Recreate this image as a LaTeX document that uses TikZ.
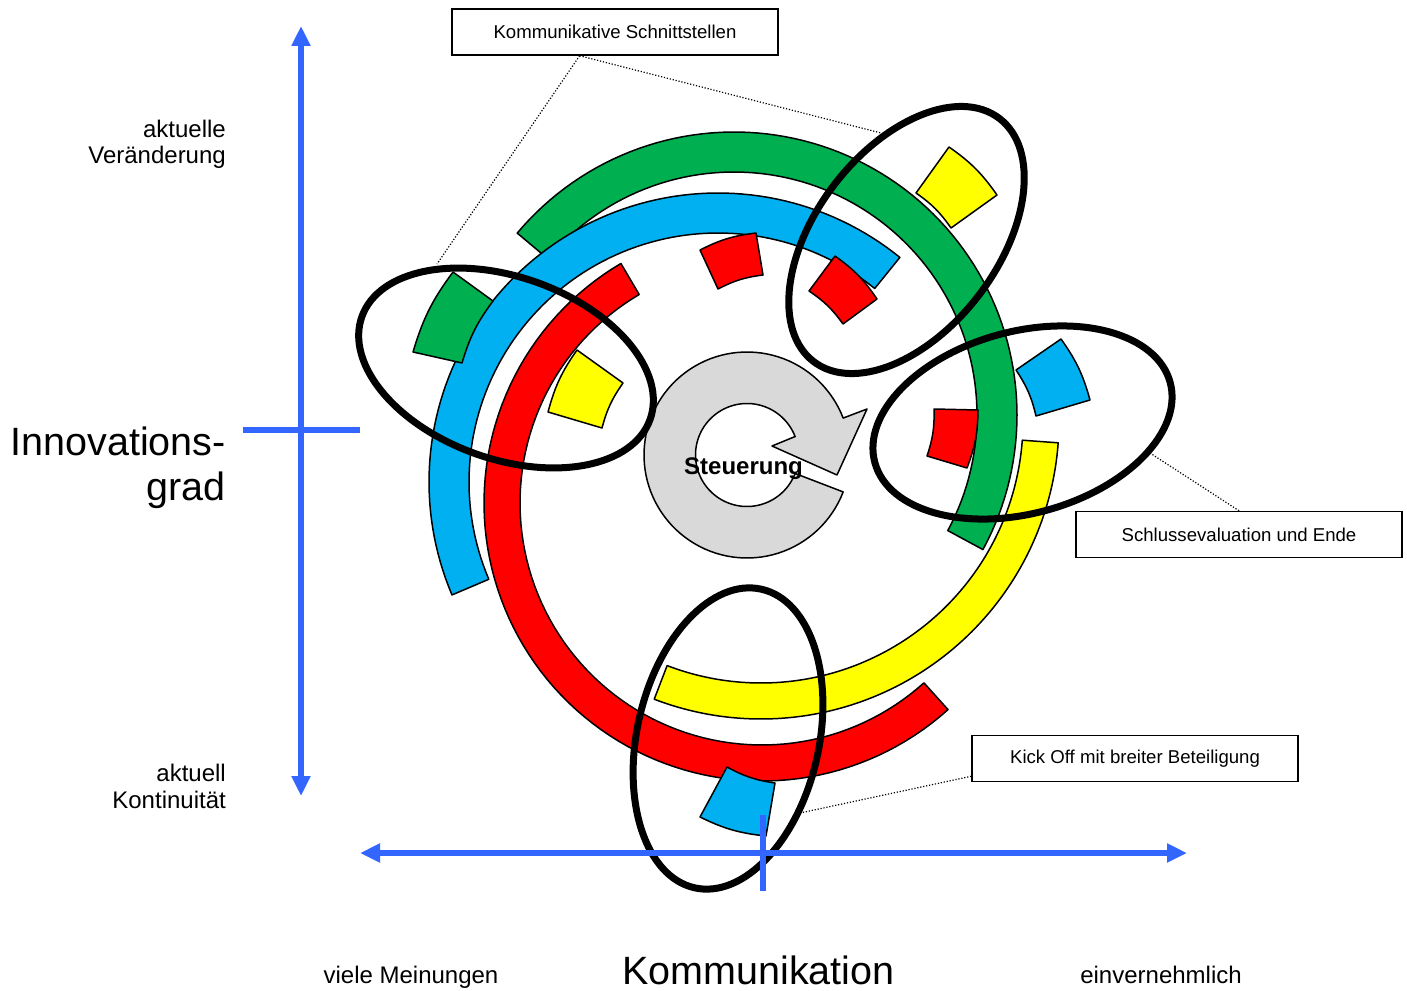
\documentclass[tikz,border=0pt]{standalone}
\usepackage{fontspec}
\setmainfont{Liberation Sans}
\usetikzlibrary{shapes.geometric,arrows.meta,calc}
\definecolor{cgreen}{HTML}{00B050}
\definecolor{cblue}{HTML}{00B0F0}
\definecolor{cred}{HTML}{FF0000}
\definecolor{cyellow}{HTML}{FFFF00}
\definecolor{cgray}{HTML}{D9D9D9}
\definecolor{axisblue}{HTML}{3366FF}
% annular band: colour, cx, cy, r inner, r outer, start angle, end angle (screen angles, y down)
\newcommand\ringband[7]{\filldraw[ringline, fill=#1] plot[domain=#6:#7,samples=90] ({#2+#5*cos(\x)},{#3+#5*sin(\x)}) -- plot[domain=#7:#6,samples=90] ({#2+#4*cos(\x)},{#3+#4*sin(\x)}) -- cycle;}
% curved tile: colour, outer1, inner1, inner2, outer2 (inner1 -> inner2 clockwise)
\newcommand\tile[5]{\filldraw[ringline, fill=#1] #2 -- #3 to[bend left=10] #4 -- #5 to[bend right=10] #2 -- cycle;}
\begin{document}
\begin{tikzpicture}[x=1pt,y=-1pt,
  ringline/.style={draw=black, line width=1.5pt, line join=round},
  ell/.style={draw=black, ellipse, line width=7pt, minimum width=306pt, minimum height=182pt, inner sep=0pt},
  lbox/.style={draw=black, fill=white, line width=1.5pt, minimum width=326pt, minimum height=46pt, inner sep=0pt, font=\fontsize{18.6}{22}\selectfont},
  leader/.style={draw=black, line width=1.2pt, dash pattern=on 1.2pt off 1.8pt},
  axisline/.style={draw=axisblue, line width=6pt},
  txt/.style={font=\fontsize{24}{28}\selectfont, inner sep=0pt, text=black},
  big/.style={font=\fontsize{39.5}{46}\selectfont, inner sep=0pt, text=black}]
\useasboundingbox[fill=white] (0,0) rectangle (1407,990);

% rings
\ringband{cgreen}{734}{415}{243}{283}{-140}{28.4}
\ringband{cblue}{718}{482}{249}{289}{-203}{-51}
\ringband{cred}{762}{503}{242}{278}{48}{239.5}
\ringband{cyellow}{761}{421}{262}{298}{4.2}{111}

% tiles
\tile{cgreen}{(413,352)}{(462,363)}{(493,301)}{(453,272)}
\tile{cyellow}{(548,412)}{(602,428)}{(623,383)}{(577,350)}
\tile{cred}{(700,250)}{(718,289)}{(763,275)}{(756,233)}
\tile{cred}{(835,256)}{(809,291)}{(843,324)}{(877,299)}
\tile{cyellow}{(949,147)}{(916,193)}{(951,228)}{(997,195)}
\tile{cblue}{(1061,339)}{(1016,370)}{(1036,416)}{(1090,400)}
\tile{cred}{(978,410)}{(934,409)}{(927,456)}{(967,468)}
\tile{cblue}{(766,836)}{(775,783)}{(727,767)}{(700,817)}

% circular arrow
\filldraw[ringline, fill=cgray] plot[domain=21:339,samples=100] ({747+103*cos(\x)},{455+103*sin(\x)}) -- (867,409) -- (837,475) -- (772,446) -- plot[domain=339:21,samples=100] ({747+51.5*cos(\x)},{455+51.5*sin(\x)}) -- cycle;
\node[font=\bfseries\fontsize{24}{28}\selectfont, inner sep=0pt, anchor=base] (steu) at (743.5,474) {Steuerung};

% ellipses
\node[ell, rotate=-19.6] (e1) at (506,368) {};
\node[ell, rotate=52.6] (e2) at (906.5,240) {};
\node[ell, rotate=15.2] (e3) at (1022.5,422.5) {};
\node[ell, rotate=77.4] (e4) at (728,738.5) {};

% label boxes
\node[lbox] (kbox) at (615,32) {Kommunikative Schnittstellen};
\node[lbox] (sbox) at (1239,534.5) {Schlussevaluation und Ende};
\node[lbox] (kobox) at (1135,758.5) {Kick Off mit breiter Beteiligung};

% leader lines
\coordinate (e1p) at (437,264);
\coordinate (e2p) at (881,133);
\coordinate (e3p) at (1150,453);
\coordinate (e4p) at (800,813);
\draw[leader] ($(kbox.south west)!0.392!(kbox.south east)$) -- (e1p);
\draw[leader] ($(kbox.south west)!0.392!(kbox.south east)$) -- (e2p);
\draw[leader] (sbox.north) -- (e3p);
\draw[leader] ($(kobox.south west)+(0,-6)$) -- (e4p);

% axes
\coordinate (vtop) at (301,26);
\coordinate (vbot) at (301,796);
\coordinate (hleft) at (360,853);
\coordinate (hright) at (1187,853);
\coordinate (ht1) at (243,430);
\coordinate (ht2) at (360,430);
\coordinate (vt1) at (763,815);
\coordinate (vt2) at (763,891);
\draw[axisline, {Triangle[length=20pt,width=18pt]}-{Triangle[length=20pt,width=18pt]}] (vbot) -- (vtop);
\draw[axisline, {Triangle[length=20pt,width=18pt]}-{Triangle[length=20pt,width=18pt]}] (hleft) -- (hright);
\draw[axisline] (ht1) -- (ht2);
\draw[axisline] (vt1) -- (vt2);

% axis texts
\node[txt, anchor=base east] (akt1) at (226,137) {aktuelle};
\node[txt, anchor=base east] (akt2) at (226,163) {Veränderung};
\node[big, anchor=base east] (inn1) at (226,455) {Innovations-};
\node[big, anchor=base east] (inn2) at (226,500) {grad};
\node[txt, anchor=base east] (kon1) at (226,781) {aktuell};
\node[txt, anchor=base east] (kon2) at (226,808) {Kontinuität};
\node[txt, anchor=base] (vm) at (411,983) {viele Meinungen};
\node[big, anchor=base] (komm) at (758.5,984) {Kommunikation};
\node[txt, anchor=base] (ein) at (1161,983) {einvernehmlich};
\end{tikzpicture}
\end{document}
